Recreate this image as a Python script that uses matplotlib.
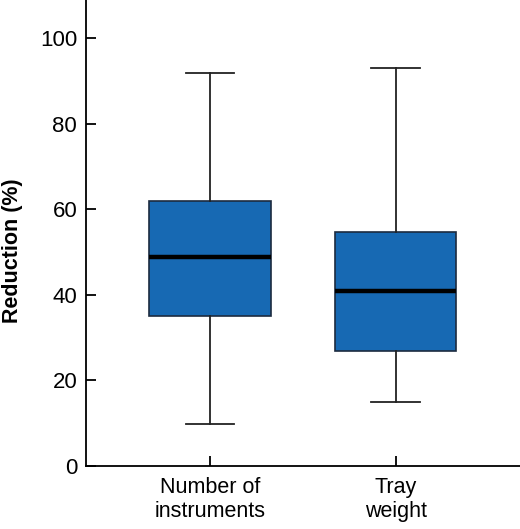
import matplotlib.pyplot as plt

categories = ["Number of\ninstruments", "Tray\nweight"]
whisker_low = [9.9, 15.0]
q1 = [35.2, 26.8]
median = [48.9, 41.0]
q3 = [61.9, 54.8]
whisker_high = [91.9, 93.1]

plt.rcParams['font.family'] = ['Liberation Sans', 'DejaVu Sans']

fig = plt.figure(figsize=(5.2, 5.29), dpi=100)
ax = fig.add_axes([85.5 / 520, 63 / 529, 1 - 85.5 / 520, 1 - 63 / 529])

stats = []
for i, lab in enumerate(categories):
    stats.append({
        'label': lab,
        'whislo': whisker_low[i],
        'q1': q1[i],
        'med': median[i],
        'q3': q3[i],
        'whishi': whisker_high[i],
        'fliers': [],
    })

ax.bxp(stats, positions=[1, 2], widths=0.655, patch_artist=True,
       showfliers=False,
       boxprops=dict(facecolor='#1769b3', edgecolor='#1c2b3f', linewidth=1.2),
       medianprops=dict(color='black', linewidth=3.2),
       whiskerprops=dict(color='#222222', linewidth=1.3),
       capprops=dict(color='#222222', linewidth=1.3),
       capwidths=0.26)

ax.set_xlim(0.33, 2.67)
ax.set_ylim(0, 109)
ax.set_yticks([0, 20, 40, 60, 80, 100])
ax.spines['top'].set_visible(False)
ax.spines['right'].set_visible(False)
ax.spines['left'].set_linewidth(1.3)
ax.spines['bottom'].set_linewidth(1.3)
ax.tick_params(axis='both', direction='in', length=7, width=1.3,
               labelsize=16, pad=6)
ax.tick_params(axis='x', pad=8)
ax.set_xticklabels(categories, fontsize=15.5, linespacing=1.15)

fig.text(13 / 520, 1 - 251 / 529, "Reduction (%)", rotation=90,
         ha='center', va='center', fontsize=15.5, fontweight='bold')

fig.savefig('out.png', dpi=100)
